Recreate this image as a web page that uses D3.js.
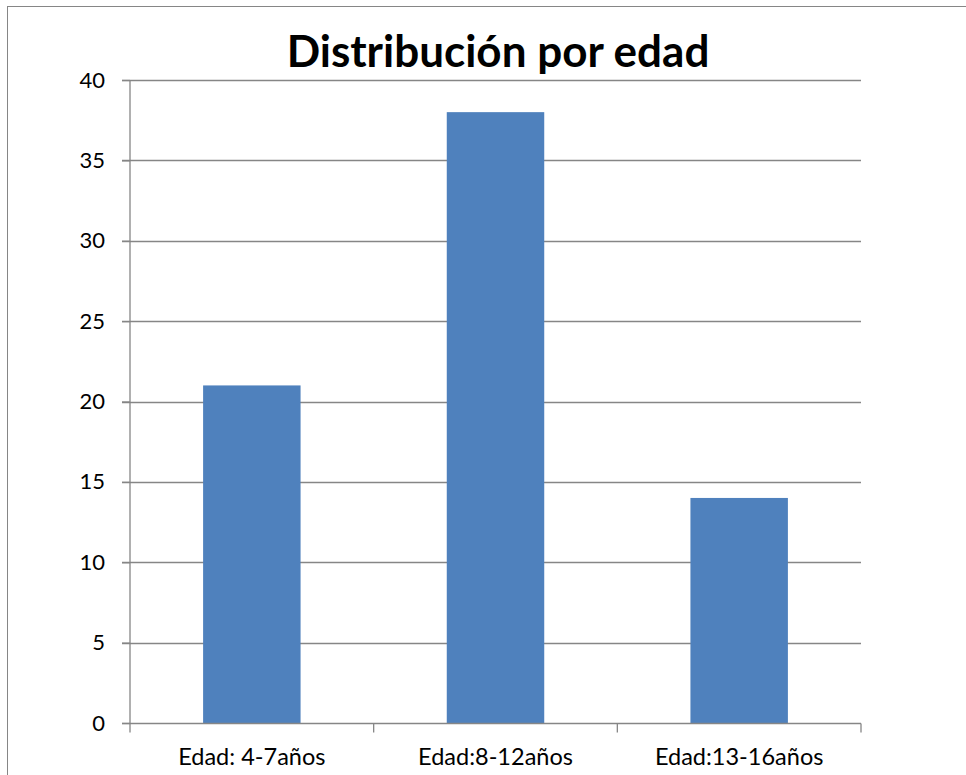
<!DOCTYPE html>
<html>
<head>
<meta charset="utf-8">
<script src="https://cdn.jsdelivr.net/npm/d3@7"></script>
<style>
  body { margin: 0; background: #fff; }
  text { font-family: Lato, "Open Sans", sans-serif; fill: #000; }
</style>
</head>
<body>
<div id="chart"></div>
<script>
'use strict';

// data
const categories = ['Edad: 4-7años', 'Edad:8-12años', 'Edad:13-16años'];
const values = [21, 38, 14];
const yTicks = [0, 5, 10, 15, 20, 25, 30, 35, 40];
const title = 'Distribución por edad';

const W = 966, H = 775;
const margin = {top: 80, right: 105, bottom: 52, left: 130};

const svg = d3.select('#chart').append('svg')
    .attr('width', W)
    .attr('height', H);

// outer frame (only left/top show in the crop)
svg.append('rect')
    .attr('x', 7.5).attr('y', 6.5)
    .attr('width', W + 10).attr('height', H + 10)
    .attr('fill', 'none')
    .attr('stroke', '#868686')
    .attr('stroke-width', 1);

const x = d3.scaleBand()
    .domain(categories)
    .range([margin.left, W - margin.right])
    .paddingInner(0.6)
    .paddingOuter(0.3);

const y = d3.scaleLinear()
    .domain([0, 40])
    .range([H - margin.bottom, margin.top]);

// gridlines
svg.append('g')
    .selectAll('line')
    .data(yTicks.filter(d => d > 0))
    .join('line')
    .attr('x1', margin.left - 8)
    .attr('x2', W - margin.right)
    .attr('y1', d => Math.round(y(d)) + 0.5)
    .attr('y2', d => Math.round(y(d)) + 0.5)
    .attr('stroke', '#868686')
    .attr('stroke-width', 1.3);

// bars
svg.append('g')
    .selectAll('rect')
    .data(values)
    .join('rect')
    .attr('x', (d, i) => x(categories[i]))
    .attr('width', x.bandwidth())
    .attr('y', d => y(d))
    .attr('height', d => y(0) - y(d))
    .attr('fill', '#4F81BD');

// y axis
const yAxis = svg.append('g')
    .attr('transform', `translate(${margin.left},0)`)
    .call(d3.axisLeft(y).tickValues(yTicks).tickSize(8).tickPadding(17));
yAxis.selectAll('line, path').attr('stroke', '#868686').attr('stroke-width', 1.3);
yAxis.select('.domain').attr('d', `M0,${y(0)}V${y(40)}`);
yAxis.selectAll('text')
    .style('font-size', '22px')
    .style('font-family', 'Lato, sans-serif')
    .attr('fill', '#000');

// x axis with boundary ticks like the original
const xAxisG = svg.append('g')
    .attr('transform', `translate(0,${Math.round(y(0)) + 0.5})`);
xAxisG.append('line')
    .attr('x1', margin.left - 8).attr('x2', W - margin.right)
    .attr('stroke', '#868686').attr('stroke-width', 1.3);
const bounds = d3.range(categories.length + 1).map(i => margin.left + i * (W - margin.right - margin.left) / categories.length);
xAxisG.selectAll('.bt')
    .data(bounds)
    .join('line')
    .attr('class', 'bt')
    .attr('x1', d => d).attr('x2', d => d)
    .attr('y1', 0).attr('y2', 9)
    .attr('stroke', '#868686').attr('stroke-width', 1.3);
xAxisG.selectAll('text')
    .data(categories)
    .join('text')
    .attr('x', d => x(d) + x.bandwidth() / 2)
    .attr('y', 41)
    .attr('text-anchor', 'middle')
    .style('font-size', '23.5px')
    .text(d => d);

// title
svg.append('text')
    .attr('x', 498)
    .attr('y', 67)
    .attr('text-anchor', 'middle')
    .style('font-size', '44px')
    .style('font-weight', 'bold')
    .text(title);
</script>
</body>
</html>
